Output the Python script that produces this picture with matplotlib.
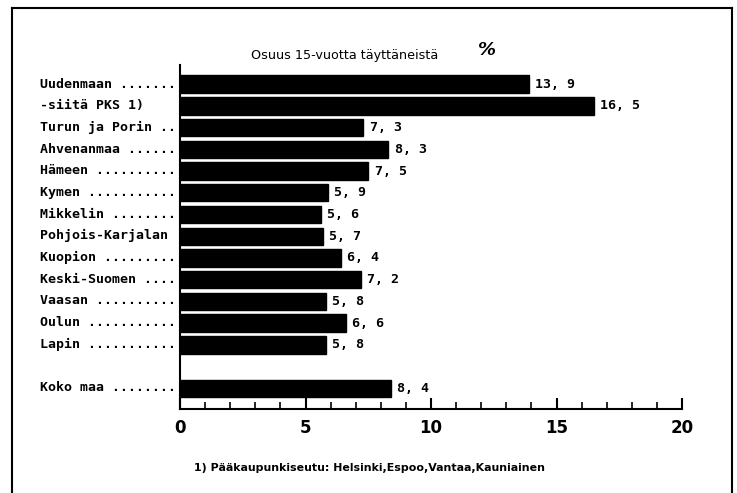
import matplotlib
matplotlib.use("Agg")
import matplotlib.pyplot as plt
from matplotlib.lines import Line2D

categories = ["Uudenmaan", "-siitä PKS 1)", "Turun ja Porin", "Ahvenanmaa", "Hämeen",
              "Kymen", "Mikkelin", "Pohjois-Karjalan", "Kuopion", "Keski-Suomen",
              "Vaasan", "Oulun", "Lapin", "Koko maa"]
values = [13.9, 16.5, 7.3, 8.3, 7.5, 5.9, 5.6, 5.7, 6.4, 7.2, 5.8, 6.6, 5.8, 8.4]
positions = [0, 1, 2, 3, 4, 5, 6, 7, 8, 9, 10, 11, 12, 14]
xticks = [0, 5, 10, 15, 20]

title = "Osuus 15-vuotta täyttäneistä"
footnote = "1) Pääkaupunkiseutu: Helsinki,Espoo,Vantaa,Kauniainen"

sans = "DejaVu Sans"
mono = "DejaVu Sans Mono"

W, H = 737, 493
fig = plt.figure(figsize=(W / 100, H / 100), dpi=100)
fig.patch.set_facecolor("white")

y_top, y_bot = 65, 409
ax = fig.add_axes([180 / W, (H - y_bot) / H, (682 - 180) / W, (y_bot - y_top) / H])
ax.barh(positions, values, height=0.8, color="black", edgecolor="black")
ax.set_xlim(0, 20)
ax.set_ylim(14.95, -0.88)

def padded(name):
    if name.startswith("-") or len(name) >= 16:
        return name
    return name + " " + "." * (17 - len(name) - 1)

for p, v, c in zip(positions, values, categories):
    ax.text(v + 0.25, p, ("%.1f" % v).replace(".", ", "), va="center", ha="left",
            fontsize=9.5, fontweight="bold", family=mono)
    fig.text(40 / W, 1 - (84 + p * 21.7) / H, padded(c), va="center", ha="left",
             fontsize=9.5, fontweight="bold", family=mono)

ax.set_yticks([])
ax.set_xticks(xticks)
ax.set_xticks(range(0, 21), minor=True)
ax.set_xticklabels([str(t) for t in xticks], fontsize=12, fontweight="bold",
                   family=sans)
ax.tick_params(axis="x", which="major", direction="in", length=8, width=1.5, pad=7)
ax.tick_params(axis="x", which="minor", direction="in", length=5, width=1.2)
for s in ["top", "right"]:
    ax.spines[s].set_visible(False)
ax.spines["left"].set_linewidth(1.5)
ax.spines["bottom"].set_linewidth(1.5)

fig.text(345 / W, 1 - 56 / H, title, ha="center", va="center", fontsize=9.2,
         family=sans)
fig.text(487 / W, 1 - 50 / H, "%", ha="center", va="center", fontsize=13,
         fontweight="bold", style="italic")
fig.text(194 / W, 1 - 468 / H, footnote, ha="left", va="center", fontsize=7.9,
         fontweight="bold", family=sans)

# outer frame (bottom cut off)
x0, x1, y0 = 12 / W, 732 / W, 1 - 8 / H
fig.add_artist(Line2D([x0, x0], [0, y0], color="black", lw=1.5))
fig.add_artist(Line2D([x0, x1], [y0, y0], color="black", lw=1.5))
fig.add_artist(Line2D([x1, x1], [y0, 0], color="black", lw=1.5))

fig.savefig("out.png", dpi=100)
